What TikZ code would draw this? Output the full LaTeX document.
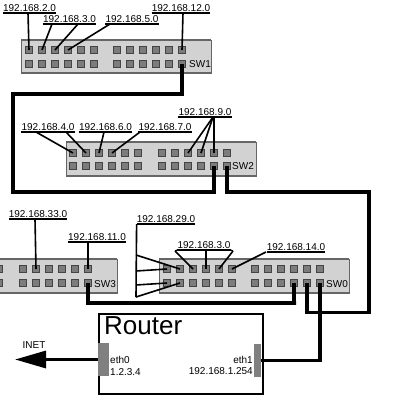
\documentclass[tikz,border=0pt]{standalone}
\usepackage{fontspec}
\setmainfont{Liberation Sans}
\usetikzlibrary{arrows.meta}
\definecolor{swfill}{HTML}{D2D2D2}
\definecolor{swedge}{HTML}{666666}
\definecolor{portfill}{HTML}{7C7C7C}
\definecolor{portedge}{HTML}{444444}
\tikzset{
  swbody/.style={fill=swfill,draw=none},
  swrule/.style={draw=swedge,line width=1.6pt},
  swside/.style={draw=swedge,line width=.5pt},
  portbox/.style={draw=portedge,fill=portfill,line width=1pt,minimum size=7.2pt,inner sep=0pt,rectangle},
  iplabel/.style={inner xsep=0pt,inner ysep=1.4pt,anchor=south,font=\fontsize{10}{10}\selectfont,text height=7.2pt,text depth=0pt},
  ulline/.style={draw=black,line width=1.2pt},
  netline/.style={draw=black,line width=1.6pt},
  cable/.style={draw=black,line width=3.2pt,line join=miter},
  txt/.style={inner sep=0pt,font=\fontsize{10}{10}\selectfont},
  ifblock/.style={fill=black!50,draw=none,inner sep=0pt},
  routerbox/.style={draw=black,line width=2pt,inner sep=0pt}
}
% #1 name, #2 left x group start, #3 right group start, #4 row1 y, #5 row2 y
\newcommand{\portrows}[5]{%
  \foreach \i in {1,...,6}{%
    \node[portbox] (#1a\i) at ({#2+13*(\i-1)},#4) {};
    \node[portbox] (#1b\i) at ({#2+13*(\i-1)},#5) {};
    \pgfmathtruncatemacro{\j}{\i+6}%
    \node[portbox] (#1a\j) at ({#3+13*(\i-1)},#4) {};
    \node[portbox] (#1b\j) at ({#3+13*(\i-1)},#5) {};
  }%
}
\newcommand{\switchbody}[4]{%
  \fill[swbody] (#1,#3) rectangle (#2,#4);
  \draw[swside] (#1,#3) rectangle (#2,#4);
  \draw[swrule] (#1,#3) -- (#2,#3);
  \draw[swrule] (#1,#4) -- (#2,#4);
}
\newcommand{\iplab}[4]{% name, center x, underline y, text
  \node[iplabel] (#1) at (#2,#3) {#4};
  \draw[ulline] (#1.south west) -- (#1.south east);
}
\begin{document}
\begin{tikzpicture}[x=1pt,y=-1pt]
\useasboundingbox (0,0) rectangle (400,400);
\clip (0,0) rectangle (400,400);
\fill[white] (0,0) rectangle (400,400);

% switches
\switchbody{21}{211}{40}{73}
\portrows{sa}{29}{117}{50}{64}
\node[txt,anchor=west] (swa) at (189,64.5) {SW1};

\switchbody{66}{256}{142}{176}
\portrows{sb}{73}{162}{153}{166}
\node[txt,anchor=west] (swb) at (232,166.5) {SW2};

\switchbody{-80}{117}{259}{293}
\portrows{sc}{-66}{23}{269}{283}
\node[txt,anchor=west] (swc) at (94,284.5) {SW3};

\switchbody{159}{349}{259}{293}
\portrows{sd}{167}{255}{269}{283}
\node[txt,anchor=west] (swd) at (326,284.5) {SW0};

% labels
\iplab{la}{29.5}{13}{192.168.2.0}
\iplab{lb}{69.5}{24}{192.168.3.0}
\iplab{lc}{132}{24}{192.168.5.0}
\iplab{ld}{181}{13}{192.168.12.0}
\iplab{le}{48}{132}{192.168.4.0}
\iplab{lf}{105.5}{132}{192.168.6.0}
\iplab{lg}{165}{132}{192.168.7.0}
\iplab{lh}{205}{117}{192.168.9.0}
\iplab{li}{38}{219}{192.168.33.0}
\iplab{lj}{97}{242}{192.168.11.0}
\iplab{lk}{166}{224}{192.168.29.0}
\iplab{ll}{204}{250}{192.168.3.0}
\iplab{lm}{296}{252}{192.168.14.0}

% free ends on the underlines
\coordinate (ca) at (28,13);
\coordinate (cb1) at (52,24);
\coordinate (cb2) at (78,24);
\coordinate (cc) at (110,24);
\coordinate (cd) at (183,13);
\coordinate (ce1) at (36,132);
\coordinate (ce2) at (66,132);
\coordinate (cf) at (104,132);
\coordinate (cg) at (140,132);
\coordinate (ch1) at (213,117);
\coordinate (ch2) at (214,117);
\coordinate (ci) at (35,219);
\coordinate (cj) at (88,242);
\coordinate (ck) at (136,224);
\coordinate (ck0) at (136,297);
\coordinate (ck1) at (136,255);
\coordinate (ck2) at (136,271);
\coordinate (ck3) at (136,285);
\coordinate (cl1) at (175,251);
\coordinate (cl2) at (206,251);
\coordinate (cl3) at (233,251);
\coordinate (cm) at (266,252);

\draw[netline] (ca) -- (saa1.center);
\draw[netline] (cb1) -- (saa2.center);
\draw[netline] (cb2) -- (saa3.center);
\draw[netline] (cc) -- (saa4.center);
\draw[netline] (cd) -- (saa12.center);
\draw[netline] (ce1) -- (sba1.center);
\draw[netline] (ce2) -- (sba2.center);
\draw[netline] (cf) -- (sba3.center);
\draw[netline] (cg) -- (sba4.center);
\draw[netline] (ch1) -- (sba9.center);
\draw[netline] (ch1) -- (sba10.center);
\draw[netline] (ch2) -- (sba11.center);
\draw[netline] (ci) -- (sca8.center);
\draw[netline] (cj) -- (sca12.center);
\draw[netline] (lk.south west) -- (ck0);
\draw[netline] (ck1) -- (sda2.center);
\draw[netline] (ck2) -- (sda1.center);
\draw[netline] (ck3) -- (sdb1.center);
\draw[netline] (ck0) -- (sdb2.center);
\draw[netline] (cl1) -- (sda3.center);
\draw[netline] (cl2) -- (sda4.center);
\draw[netline] (cl3) -- (sda5.center);
\draw[netline] (cm) -- (sda6.center);
\draw[ulline] (cl1) -- (ll.south west);
\draw[ulline] (ll.south east) -- (cl3);

% router
\node[routerbox,minimum width=164pt,minimum height=80pt,anchor=north west] (router) at (97.5,312.5) {};
\node[anchor=north west,inner sep=0pt,font=\fontsize{26}{26}\selectfont] (rname) at (104,316.5) {Router};
\node[ifblock,minimum width=11pt,minimum height=33pt] (ifa) at (103.5,359.5) {};
\node[ifblock,minimum width=7.5pt,minimum height=33pt] (ifb) at (257.5,360.5) {};
\node[txt,anchor=west] (etha) at (110,360) {eth0};
\node[txt,anchor=west] (ipa) at (110,372) {1.2.3.4};
\node[txt,anchor=east] (ethb) at (253,360) {eth1};
\node[txt,anchor=east] (ipb) at (253,371) {192.168.1.254};
\node[txt,anchor=center] (inet) at (34,345) {INET};

% cables
\coordinate (inettip) at (15,359.5);
\coordinate (ja) at (13,94);
\coordinate (jb) at (13,192);
\coordinate (jc) at (369,192);
\coordinate (jd) at (369,312.5);
\draw[cable] (sab12.center) |- (ja) -- (jb) -| (sbb11.center);
\draw[cable] (sbb12.center) |- (jc) -- (jd) -| (sdb11.center);
\draw[cable] (scb12.center) |- (296,303) -| (sdb10.center);
\draw[cable] (sdb12.center) |- (ifb.east);
\draw[cable,-{Triangle[length=31pt,width=17pt]}] (ifa.west) -- (inettip);
\end{tikzpicture}
\end{document}
